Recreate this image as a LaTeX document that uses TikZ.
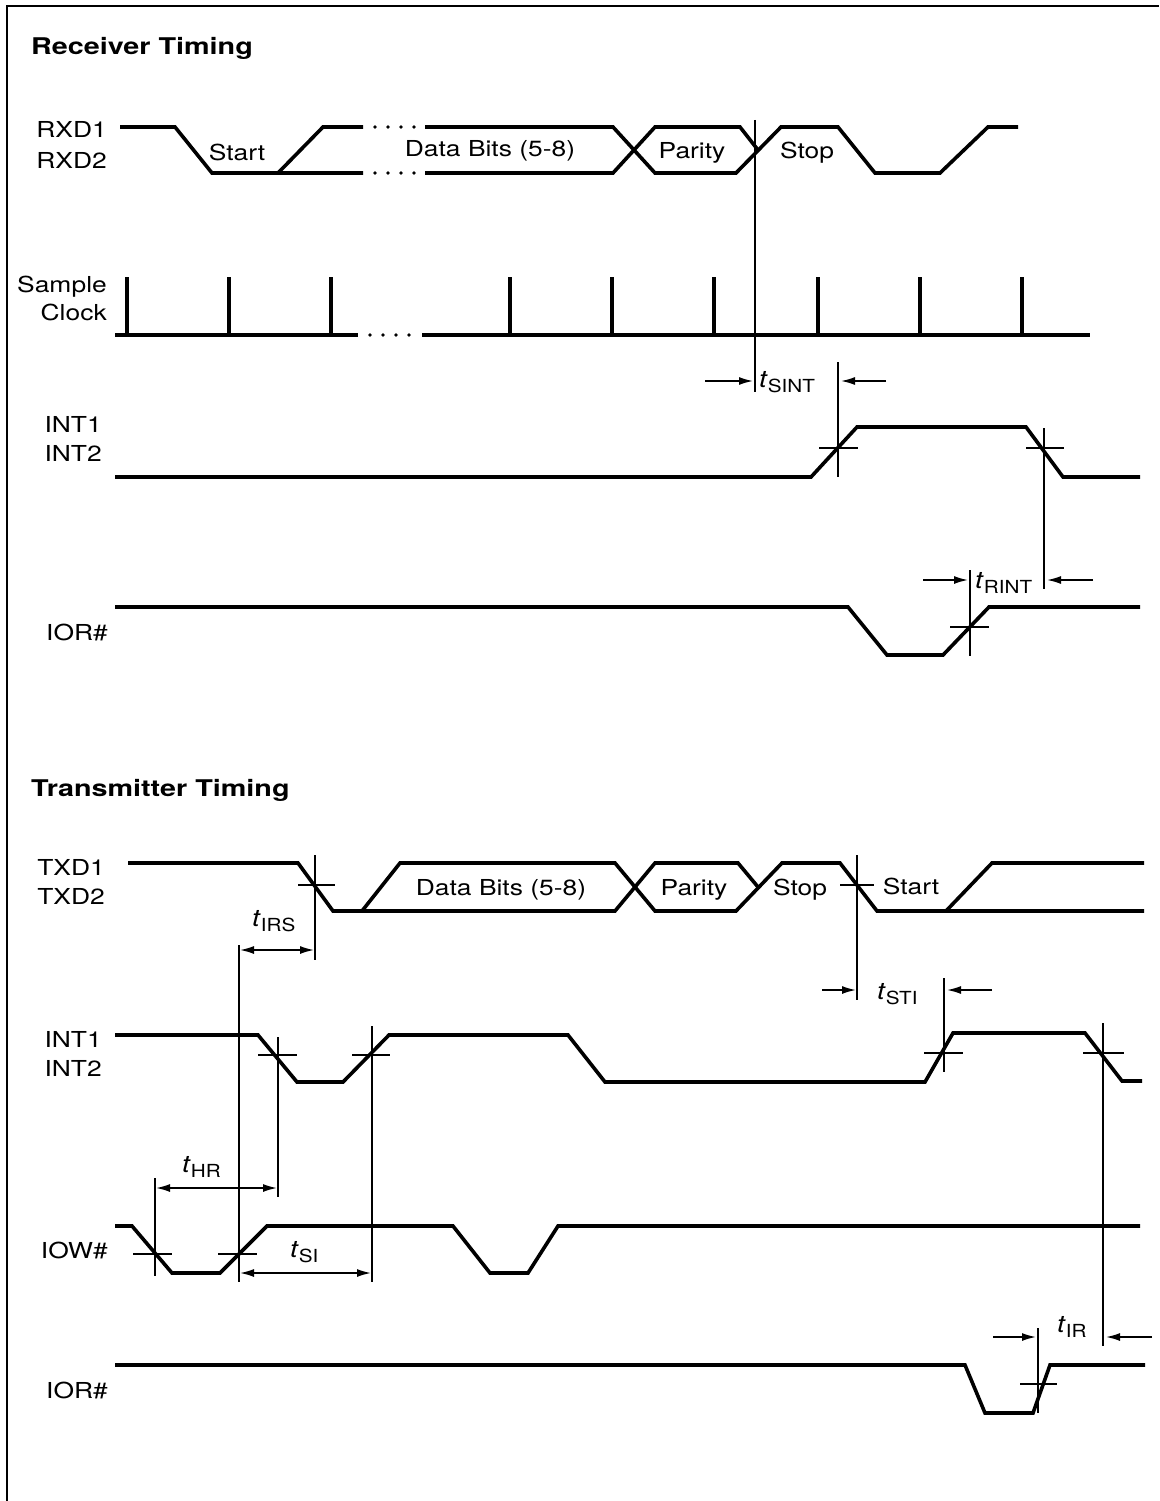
\documentclass[tikz,border=0pt]{standalone}
\usepackage{fontspec}
\setmainfont{TeX Gyre Heros}
\usetikzlibrary{arrows.meta}
\newcommand\wtxt[1]{\scalebox{1.2}[1]{#1}}
\newcommand\wttl[1]{\scalebox{1.25}[1]{#1}}
\newcommand\tlab[1]{\scalebox{1.15}[1]{\textit{t}\raisebox{-5pt}{\fontsize{18}{18}\selectfont #1}}}
\begin{document}
\begin{tikzpicture}[x=1pt,y=-1pt,
  sig/.style={line width=3.6pt, line join=miter, line cap=butt},
  clk/.style={line width=3.4pt},
  tline/.style={line width=1.7pt},
  xmark/.style={line width=1.3pt},
  dimr/.style={line width=1.6pt, -{Latex[length=14pt,width=8pt]}},
  dimb/.style={line width=1.6pt, {Latex[length=14pt,width=8pt]}-{Latex[length=14pt,width=8pt]}},
  lab/.style={font=\fontsize{22}{22}\selectfont, inner sep=0pt},
  ttl/.style={font=\fontsize{23}{23}\selectfont\bfseries, inner sep=0pt, anchor=base west},
  tl/.style={font=\fontsize{24}{24}\selectfont, inner sep=0pt}]
\useasboundingbox (0,0) rectangle (1159,1501);
% frame
\draw[line width=1.6pt] (7,1501) -- (7,6) -- (1159,6);

% ================= Receiver =================
\node[ttl] (rtitle) at (31,55) {\wttl{Receiver Timing}};
\node[lab, anchor=base east] (rxd1) at (107,138) {\wtxt{RXD1}};
\node[lab, anchor=base east] (rxd2) at (107,168) {\wtxt{RXD2}};
\node[lab, anchor=base east] (samp) at (107,292) {\wtxt{Sample}};
\node[lab, anchor=base east] (clock) at (107,320) {\wtxt{Clock}};
\node[lab, anchor=base east] (rint1) at (102,432) {\wtxt{INT1}};
\node[lab, anchor=base east] (rint2) at (102,461) {\wtxt{INT2}};
\node[lab, anchor=base east] (rior) at (108,640) {\wtxt{IOR\#}};

% RXD
\draw[sig] (120,127) -- (175,127) -- (212,173) -- (363,173);
\draw[sig] (278,173) -- (323,127) -- (363,127);
\foreach \x in {375,388,401,414} {\fill (\x,127) circle (1.8); \fill (\x,173) circle (1.8);}
\draw[sig] (425,127) -- (613,127) -- (655,173) -- (736,173) -- (781,127) -- (838,127) -- (875,173) -- (940,173) -- (988,127) -- (1018,127);
\draw[sig] (425,173) -- (613,173) -- (655,127) -- (740,127) -- (758,150);
\node[lab, anchor=base] (rstart) at (237,160) {\wtxt{Start}};
\node[lab, anchor=base] (rdata) at (490,157) {\wtxt{Data Bits (5-8)}};
\node[lab, anchor=base] (rpar) at (692,158) {\wtxt{Parity}};
\node[lab, anchor=base] (rstop) at (807,158) {\wtxt{Stop}};
\coordinate (v1t) at (755,120); \coordinate (v1b) at (755,392);
\draw[tline] (v1t) -- (v1b);

% Sample clock
\draw[sig] (115,335) -- (358,335);
\foreach \x in {370,383,396,409} {\fill (\x,335) circle (1.8);}
\draw[sig] (422,335) -- (1090,335);
\foreach \x in {127,229,331,510,612,714,818,920,1022} {\draw[clk] (\x,277) -- (\x,335);}

% tSINT
\coordinate (sa1) at (705,381); \coordinate (sa2) at (753,381);
\coordinate (sb1) at (886,381); \coordinate (sb2) at (841,381);
\draw[dimr] (sa1) -- (sa2);
\draw[dimr] (sb1) -- (sb2);
\node[tl, anchor=west] (tsint) at (759,382) {\tlab{SINT}};
\coordinate (v2t) at (838,362); \coordinate (v2b) at (838,477);
\draw[tline] (v2t) -- (v2b);

% INT receiver
\draw[sig] (115,477) -- (811,477) -- (857,427) -- (1026,427) -- (1063,477) -- (1140,477);
\draw[xmark] (819,448) -- (858,448);
\draw[xmark] (1026,448) -- (1064,448);
\coordinate (v3t) at (1044,428); \coordinate (v3b) at (1044,589);
\draw[tline] (v3t) -- (v3b);

% tRINT
\coordinate (ra1) at (923,580); \coordinate (ra2) at (968,580);
\coordinate (rb1) at (1093,580); \coordinate (rb2) at (1047,580);
\draw[dimr] (ra1) -- (ra2);
\draw[dimr] (rb1) -- (rb2);
\coordinate (v4t) at (970,570); \coordinate (v4b) at (970,656);
\draw[tline] (v4t) -- (v4b);
\node[tl, anchor=west] (trint) at (975,583) {\tlab{RINT}};

% IOR receiver
\draw[sig] (115,607) -- (848,607) -- (887,655) -- (943,655) -- (989,607) -- (1140,607);
\draw[xmark] (950,627) -- (989,627);

% ================= Transmitter =================
\node[ttl] (ttitle) at (31,796) {\wttl{Transmitter Timing}};
\node[lab, anchor=base east] (txd1) at (105,875) {\wtxt{TXD1}};
\node[lab, anchor=base east] (txd2) at (105,904) {\wtxt{TXD2}};
\node[lab, anchor=base east] (tint1) at (102,1047) {\wtxt{INT1}};
\node[lab, anchor=base east] (tint2) at (102,1076) {\wtxt{INT2}};
\node[lab, anchor=base east] (tiow) at (108,1258) {\wtxt{IOW\#}};
\node[lab, anchor=base east] (tior) at (108,1398) {\wtxt{IOR\#}};

% TXD
\draw[sig] (128,863) -- (298,863) -- (333,911) -- (615,911) -- (655,863) -- (738,863) -- (758,887);
\draw[sig] (362,911) -- (400,863) -- (615,863) -- (655,911) -- (736,911) -- (782,863) -- (840,863) -- (877,911) -- (1144,911);
\draw[sig] (946,911) -- (992,863) -- (1144,863);
\node[lab, anchor=base] (tdata) at (501,895) {\wtxt{Data Bits (5-8)}};
\node[lab, anchor=base] (tpar) at (694,895) {\wtxt{Parity}};
\node[lab, anchor=base] (tstop) at (800,895) {\wtxt{Stop}};
\node[lab, anchor=base] (tstart) at (911,894) {\wtxt{Start}};
\draw[xmark] (298,885) -- (335,885);
\coordinate (w1t) at (315,855); \coordinate (w1b) at (315,960);
\draw[tline] (w1t) -- (w1b);
\draw[xmark] (840,885) -- (874,885);
\coordinate (w2t) at (857,855); \coordinate (w2b) at (857,1000);
\draw[tline] (w2t) -- (w2b);

% tIRS
\coordinate (w3t) at (239,945); \coordinate (w3b) at (239,1282);
\draw[tline] (w3t) -- (w3b);
\coordinate (ia) at (240,950); \coordinate (ib) at (314,950);
\draw[dimb] (ia) -- (ib);
\node[tl, anchor=west] (tirs) at (252,921) {\tlab{IRS}};

% tSTI
\coordinate (sta1) at (822,990); \coordinate (sta2) at (856,990);
\coordinate (stb1) at (992,990); \coordinate (stb2) at (947,990);
\draw[dimr] (sta1) -- (sta2);
\draw[dimr] (stb1) -- (stb2);
\node[tl, anchor=west] (tsti) at (877,994) {\tlab{STI}};
\coordinate (w4t) at (944,978); \coordinate (w4b) at (944,1072);
\draw[tline] (w4t) -- (w4b);

% INT transmitter
\draw[sig] (115,1035) -- (258,1035) -- (297,1082) -- (343,1082) -- (389,1035) -- (568,1035) -- (605,1082) -- (925,1082) -- (953,1033) -- (1085,1033) -- (1122,1081) -- (1142,1081);
\draw[xmark] (258,1055) -- (297,1055);
\draw[xmark] (352,1055) -- (390,1055);
\draw[xmark] (924,1053) -- (963,1053);
\draw[xmark] (1083,1053) -- (1124,1053);
\coordinate (w5t) at (278,1037); \coordinate (w5b) at (278,1197);
\draw[tline] (w5t) -- (w5b);
\coordinate (w6t) at (372,1026); \coordinate (w6b) at (372,1282);
\draw[tline] (w6t) -- (w6b);
\coordinate (w7t) at (1103,1023); \coordinate (w7b) at (1103,1346);
\draw[tline] (w7t) -- (w7b);

% tHR
\coordinate (w8t) at (155,1178); \coordinate (w8b) at (155,1276);
\draw[tline] (w8t) -- (w8b);
\coordinate (ha) at (156,1188); \coordinate (hb) at (277,1188);
\draw[dimb] (ha) -- (hb);
\node[tl, anchor=west] (thr) at (182,1167) {\tlab{HR}};

% IOW
\draw[sig] (115,1226) -- (132,1226) -- (172,1273) -- (220,1273) -- (267,1226) -- (453,1226) -- (490,1273) -- (528,1273) -- (558,1226) -- (1140,1226);
\draw[xmark] (133,1254) -- (172,1254);
\draw[xmark] (218,1254) -- (257,1254);

% tSI
\coordinate (sia) at (240,1273); \coordinate (sib) at (371,1273);
\draw[dimb] (sia) -- (sib);
\node[tl, anchor=west] (tsi) at (290,1252) {\tlab{SI}};

% tIR
\coordinate (ira1) at (993,1337); \coordinate (ira2) at (1036,1337);
\coordinate (irb1) at (1152,1337); \coordinate (irb2) at (1106,1337);
\draw[dimr] (ira1) -- (ira2);
\draw[dimr] (irb1) -- (irb2);
\coordinate (w9t) at (1038,1328); \coordinate (w9b) at (1038,1413);
\draw[tline] (w9t) -- (w9b);
\node[tl, anchor=west] (tir) at (1057,1327) {\tlab{IR}};

% IOR transmitter
\draw[sig] (115,1365) -- (965,1365) -- (985,1413) -- (1033,1413) -- (1050,1365) -- (1145,1365);
\draw[xmark] (1020,1384) -- (1057,1384);
\end{tikzpicture}
\end{document}
